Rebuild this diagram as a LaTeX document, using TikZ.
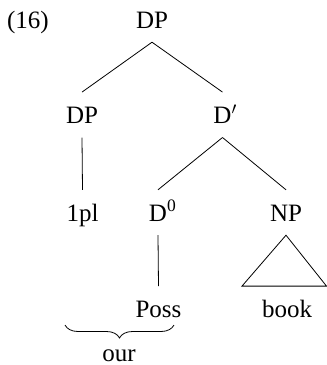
\documentclass[tikz,border=0pt]{standalone}
\usepackage{fontspec}
\setmainfont{Liberation Serif}
\usetikzlibrary{decorations.pathreplacing}

\tikzset{
  cat/.style={anchor=base, text height=17pt, text depth=0pt,
    inner xsep=0pt, inner ysep=14pt},
  branch/.style={line width=0.8pt},
  underbrace/.style={line width=0.8pt, decorate,
    decoration={brace, mirror, amplitude=13pt}},
}

\begin{document}
\begin{tikzpicture}[x=1pt, y=-1pt, font=\fontsize{25}{30}\selectfont]

    % Keep the page the size of the reference (y runs downwards)
    \useasboundingbox (0,0) rectangle (327,365);

    % Baselines of the rows of the tree
    \pgfmathsetmacro{\rowa}{28}
    \pgfmathsetmacro{\rowb}{123.3}
    \pgfmathsetmacro{\rowc}{221}
    \pgfmathsetmacro{\rowd}{317.3}
    \pgfmathsetmacro{\rowe}{361}

    % Example number
    \node[cat] (exnum) at (28, \rowa) {(16)};

    % Root and its daughters
    \node[cat] (dp) at (152, \rowa) {DP};
    \node[cat] (dpspec) at (82, \rowb) {DP};
    \node[cat] (dbar) at (222.5, \rowb) {D\rlap{$'$}};

    % Third row
    \node[cat] (pl) at (82.5, \rowc) {1pl};
    \node[cat] (dzero) at (158, \rowc) {D\rlap{\textsuperscript{0}}};
    \node[cat] (np) at (286, \rowc) {NP};

    % Words
    \node[cat] (poss) at (158.5, \rowd) {Poss};
    \node[cat] (book) at (287, \rowd) {book};

    % Branches
    \draw[branch] (dp.south) -- (dpspec.north);
    \draw[branch] (dp.south) -- (dbar.north);
    \draw[branch] (dpspec.south) -- (pl.north);
    \draw[branch] (dbar.south) -- (dzero.north);
    \draw[branch] (dbar.south) -- (np.north);
    \draw[branch] (dzero.south) -- (poss.north);

    % Triangle over the NP
    \draw[branch] (np.south) -- ([xshift=-45]book.north)
      -- ([xshift=39.5]book.north) -- cycle;

    % Brace under 1pl and Poss, with its gloss
    \coordinate (brl) at (65, 325);
    \coordinate (brr) at (174, 325);
    \draw[underbrace] (brl) -- (brr);
    \node[cat] (our) at (119, \rowe) {our};

\end{tikzpicture}
\end{document}
